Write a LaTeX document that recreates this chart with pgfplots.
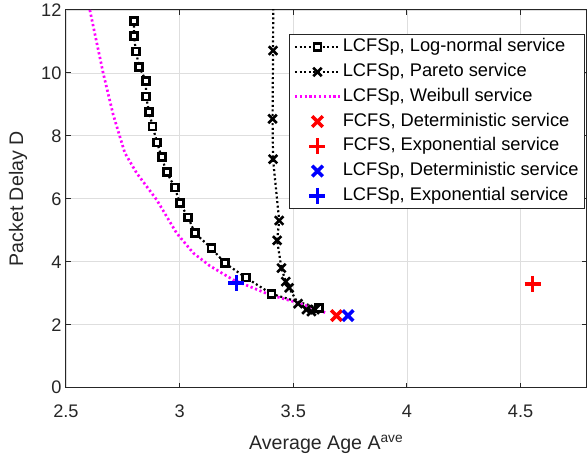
\documentclass[border=0pt]{standalone}
\usepackage{fontspec}
\setmainfont{Liberation Sans}
\usepackage{pgfplots}
\pgfplotsset{compat=1.18}
\definecolor{axgray}{rgb}{0.15,0.15,0.15}
\definecolor{gridgray}{rgb}{0.87,0.87,0.87}
\definecolor{mag}{rgb}{1,0,1}
\definecolor{pureblue}{rgb}{0,0,1}
\definecolor{purered}{rgb}{1,0,0}

\begin{document}
\begin{tikzpicture}
\begin{axis}[
    name=ax,
    scale only axis,
    width=521pt, height=378pt,
    xmin=2.5, xmax=4.79, ymin=0, ymax=12,
    xtick={2.5,3,3.5,4,4.5},
    xticklabels={2.5,3,3.5,4,4.5},
    ytick={0,2,...,12},
    tick pos=both,
    xticklabel pos=bottom,
    yticklabel pos=left,
    tick align=inside,
    major tick length=5pt,
    grid=major,
    major grid style={gridgray, line width=0.8pt},
    axis line style={axgray, line width=1pt},
    tick style={axgray, line width=1pt},
    /pgf/number format/assume math mode=true,
    every tick label/.append style={font=\fontsize{18.2}{20}\selectfont, text=axgray},
    xticklabel style={anchor=base, yshift=-30pt},
    yticklabel style={xshift=-1pt},
    xlabel={Average Age A\textsuperscript{ave}},
    ylabel={Packet Delay D},
    label style={font=\fontsize{19.6}{22}\selectfont, text=axgray},
    xlabel style={at={(axis description cs:0.5,0)}, anchor=base, yshift=-62pt},
    ylabel style={at={(axis description cs:0,0.5)}, anchor=center, yshift=48pt},
    legend style={at={(0.996,0.937)}, anchor=north east, draw=axgray, line width=0.8pt,
        fill=white, font=\fontsize{18.3}{21}\selectfont, inner xsep=4pt, inner ysep=4.5pt,
        row sep=7.8pt,
        nodes={inner xsep=1.5pt, inner ysep=0pt, text height=13pt, text depth=4pt}},
    legend cell align=left,
    legend image code/.code={\draw[mark repeat=2,mark phase=2,#1]
        plot coordinates {(0pt,0pt) (22.5pt,0pt) (45pt,0pt)};},
]
% LCFSp, Log-normal
\addplot[black, line width=2.2pt, dash pattern=on 2pt off 2.6pt,
    mark=square*, mark size=3.5pt,
    mark options={solid, fill=white, line width=2.8pt}] coordinates {
    (2.799,11.65) (2.799,11.18) (2.808,10.68) (2.822,10.20) (2.852,9.74)
    (2.852,9.25) (2.866,8.77) (2.881,8.30) (2.901,7.79) (2.921,7.32)
    (2.943,6.85) (2.979,6.36) (3.001,5.86) (3.038,5.41) (3.067,4.91)
    (3.140,4.43) (3.199,3.96) (3.291,3.50) (3.404,2.98) (3.613,2.53)
};
\addlegendentry{LCFSp, Log-normal service}
% LCFSp, Pareto
\addplot[black, line width=2.2pt, dash pattern=on 2pt off 2.6pt,
    mark=x, mark size=6pt,
    mark options={solid, line width=2.6pt}] coordinates {
    (3.412,12.2) (3.411,10.71) (3.409,8.54) (3.411,7.26) (3.438,5.31)
    (3.429,4.68) (3.448,3.80) (3.467,3.37) (3.482,3.17) (3.521,2.67)
    (3.558,2.48) (3.580,2.42) (3.595,2.48)
};
\addlegendentry{LCFSp, Pareto service}
% LCFSp, Weibull
\addplot[mag, line width=2.7pt, dash pattern=on 2.2pt off 2.6pt] coordinates {
    (2.605,12.0) (2.664,9.99) (2.708,8.67) (2.759,7.46) (2.811,6.82)
    (2.899,5.97) (2.987,4.91) (3.060,4.28) (3.133,3.87) (3.235,3.43)
    (3.323,3.17) (3.397,2.95) (3.499,2.74) (3.587,2.53) (3.646,2.37)
};
\addlegendentry{LCFSp, Weibull service}
% FCFS, Deterministic
\addplot[only marks, purered, mark=x, mark size=7.5pt, mark options={line width=3.5pt}]
    coordinates {(3.690,2.29)};
\addlegendentry{FCFS, Deterministic service}
% FCFS, Exponential
\addplot[only marks, purered, mark=+, mark size=8pt, mark options={line width=3.5pt}]
    coordinates {(4.553,3.30)};
\addlegendentry{FCFS, Exponential service}
% LCFSp, Deterministic
\addplot[only marks, pureblue, mark=x, mark size=7.5pt, mark options={line width=3.5pt}]
    coordinates {(3.741,2.29)};
\addlegendentry{LCFSp, Deterministic service}
% LCFSp, Exponential
\addplot[only marks, pureblue, mark=+, mark size=8pt, mark options={line width=3.5pt}]
    coordinates {(3.250,3.32)};
\addlegendentry{LCFSp, Exponential service}
\end{axis}
\path ([xshift=-66pt,yshift=-72pt]ax.south west) ([yshift=10pt]ax.north east);
\end{tikzpicture}
\end{document}
